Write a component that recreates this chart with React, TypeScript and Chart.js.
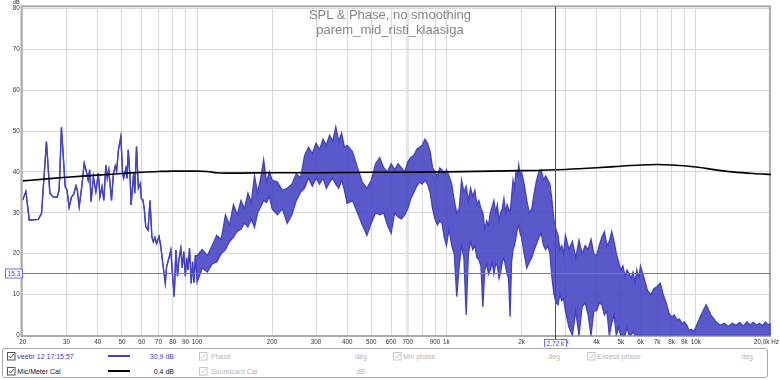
import React, { useEffect, useRef } from 'react';
import { Chart, registerables } from 'chart.js';

Chart.register(...registerables);

// ---------- data ----------
// Low-frequency part of the SPL trace (clean single line)
const FREQ_LOW = [
  20, 20.6, 21.25, 22, 23.1, 23.8, 24.9, 25.7, 26.5, 27.5,
  28, 28.6, 29.6, 30.1, 30.7, 31.4, 32, 32.7, 33.1, 33.7,
  34.5, 35.3, 36, 36.6, 37.1, 37.6, 38.4, 39.3, 40.2, 40.8,
  41.6, 42.3, 43.1, 43.7, 44.3, 45.4, 46.2, 47, 47.6, 48.4,
  49.5, 50.3, 50.8, 51.9, 52.4, 53, 54, 54.4, 55.7, 56.3,
  57.2, 58.2, 59.3, 59.8, 60.7, 61.5, 62.3, 63.6, 64.8, 65.9,
  66.8, 67.8, 68.8, 70.4, 71.5, 72.9, 74.6, 75.5, 77.4, 78.5,
  79.7, 81, 82.3, 83.5, 84.8, 86.1, 87.2, 88.5, 89.8, 90.9,
  92, 93.3, 94.8, 96, 97.2, 98.5,
];
const SPL_LOW = [
  33.1, 35.2, 28.2, 28.3, 28.4, 29.9, 47.4, 34.8, 33.9, 33.8,
  35.6, 50.9, 36.4, 35.6, 31.3, 33.9, 34.5, 36.6, 35.6, 31.5,
  36.4, 42.1, 40.1, 38.0, 40.5, 32.7, 38.8, 35.2, 39.7, 33.9,
  36.4, 33.0, 41.7, 38.4, 40.5, 33.0, 39.5, 41.4, 40.1, 45.4,
  48.6, 39.7, 38.5, 40.9, 38.4, 45.4, 37.6, 31.9, 39.7, 34.8,
  46.2, 36.0, 37.2, 33.5, 33.1, 30.7, 26.6, 25.8, 33.0, 24.2,
  22.9, 24.0, 22.5, 24.2, 22.0, 17.6, 12.8, 16.8, 19.3, 20.9,
  15.0, 9.5, 20.9, 14.5, 19.0, 21.3, 16.5, 20.5, 14.5, 19.0,
  16.0, 21.3, 12.7, 18.0, 12.9, 19.5,
];

// Noisy part of the SPL trace: upper / lower envelope
const FREQ_BAND = [
  // 100-200
  100, 105, 110, 115, 120, 125, 130, 135, 140, 145, 150, 155, 160, 165, 170, 175, 180, 185, 190, 195, 200,
  // 210-400
  210, 220, 230, 240, 250, 260, 270, 280, 290, 300, 310, 320, 330, 340, 350, 360, 370, 380, 390, 400,
  // 420-1000
  420, 440, 460, 480, 500, 520, 540, 560, 580, 600, 620, 640, 660, 680, 700,
  720, 740, 760, 780, 800, 820, 840, 860, 880, 900, 920, 940, 960, 980, 1000,
  // 1025-2000
  1025, 1050, 1075, 1100, 1125, 1150, 1175, 1200, 1225, 1250, 1275, 1300, 1325, 1350, 1375, 1400, 1425, 1450, 1475, 1500,
  1525, 1550, 1575, 1600, 1625, 1650, 1675, 1700, 1725, 1750, 1775, 1800, 1825, 1850, 1875, 1900, 1925, 1950, 1975, 2000,
  // 2050-3000
  2050, 2100, 2150, 2200, 2250, 2300, 2350, 2400, 2450, 2500, 2550, 2600, 2650, 2700, 2750, 2800, 2850, 2900, 2950, 3000,
  // 3100-6000
  3100, 3200, 3300, 3400, 3500, 3600, 3700, 3800, 3900, 4000, 4100, 4200, 4300, 4400, 4500,
  4600, 4700, 4800, 4900, 5000, 5100, 5200, 5300, 5400, 5500, 5600, 5700, 5800, 5900, 6000,
  // 6200-10000
  6200, 6400, 6600, 6800, 7000, 7200, 7400, 7600, 7800, 8000, 8200, 8400, 8600, 8800, 9000, 9200, 9400, 9600, 9800, 10000,
  // 10500-20000
  10500, 11000, 11500, 12000, 12500, 13000, 13500, 14000, 14500, 15000, 15500, 16000, 16500, 17000, 17500, 18000, 18500, 19000, 19500, 20000,
];
const SPL_HI = [
  19.5, 21, 19.5, 22, 24.5, 23.5, 29.5, 27, 32, 29.5, 33, 31, 34.8, 32.5, 39, 35, 38.5, 43, 37.5, 40, 38,
  37.5, 35.5, 36, 37, 39.5, 38.5, 44, 46, 44.5, 47, 45.5, 48, 46.5, 49, 47.5, 51, 47.5, 49.5, 46, 46.5,
  45, 41, 37.5, 36, 38, 42, 43.5, 41, 40, 42, 40.5, 42, 41, 40, 42.5,
  43.5, 44, 45.5, 46, 46.5, 48, 47, 45, 41, 40, 39, 41, 40.5, 39.5, 40.5,
  39, 37, 33, 30, 31, 38, 35, 36.5, 33, 36, 34, 35.5, 32, 33, 31, 30, 26, 28, 27, 30,
  31.5, 33, 30, 32, 28, 30, 31, 33.5, 30, 32, 31, 30, 34, 38, 36, 40, 39, 41.7, 39, 40,
  37, 33, 30, 31, 35, 38, 40, 40.5, 38, 39, 38, 37, 33, 28, 26, 24.6, 21, 22, 20, 24.5,
  21, 23, 19, 23.3, 20, 22, 21, 23.5, 20, 19.5, 22, 24, 25.4, 22, 23,
  25.4, 23, 20, 18, 16, 17, 14.5, 16, 15, 14, 15.5, 13, 16, 14, 17,
  14, 11, 10, 11.5, 12, 12.8, 10, 8, 5.5, 4.5, 5, 3.8, 4, 3, 3.3, 2.5, 1.2, 1.5, 1, 2,
  5, 7.5, 5, 3.5, 2.5, 3, 2.2, 3, 2.5, 3.2, 2.3, 3.3, 2.6, 3.2, 2.5, 3, 2.4, 3.3, 2.6, 3,
];
const SPL_LO = [
  13, 16.5, 15.5, 17.5, 18, 20, 21, 23, 24, 25.5, 26, 27.5, 26.5, 28.5, 26.4, 30, 31.5, 33, 32.5, 34, 31,
  29.5, 31, 27.4, 29.5, 33, 35, 36, 38.5, 36.5, 38.5, 37, 38.5, 36, 37.5, 38.5, 37, 36, 38, 35.5, 32.3,
  33, 30, 27, 24.5, 27.5, 30, 29.5, 30, 27, 25, 30, 29, 28.5, 29.5, 31,
  33.5, 35, 36.5, 37.5, 37, 38, 37, 35, 31, 28.5, 27, 28, 27.5, 24, 22,
  26, 22, 20, 9.5, 17, 22, 19, 5, 20, 23, 21, 22, 19, 18.5, 17, 7, 16, 17.5, 15, 16,
  18, 15, 17.5, 17, 14, 15.5, 18, 19, 17, 15, 14, 4.6, 18, 21, 22, 24, 26, 27, 25, 24,
  20, 16.5, 18, 19, 21, 22.5, 24, 25, 22, 21, 22, 20, 14, 10, 8, 7.5, 10, 8.5, 9, 6,
  2, 0, 6, 0, 7, 8, 5, 0, 6, 6, 8, 7.5, 5, 6, 0,
  3, 5, 0, 2, 0, 0, 0, 2, 0, 0, 1, 0, 0, 0, 0,
  0, 0, 0, 0, 0, 0, 0, 0, 0, 0, 0, 0, 0, 0, 0, 0, 0, 0, 0, 0,
  0, 0, 0, 0, 0, 0, 0, 0, 0, 0, 0, 0, 0, 0, 0, 0, 0, 0, 0, 0,
];

// Mic/Meter calibration curve
const CAL_FREQ = [20, 25, 30, 40, 50, 60, 70, 80, 100, 110, 120, 140, 200, 300, 500, 1000, 2000, 3000, 4000, 5000, 6000, 7000, 8000, 10000, 12000, 14000, 17000, 20000];
const CAL_DB = [37.8, 38.3, 38.7, 39.2, 39.6, 39.9, 40.1, 40.2, 40.2, 40.1, 39.8, 39.7, 39.8, 39.8, 39.9, 40.0, 40.3, 40.6, 41.0, 41.4, 41.7, 41.8, 41.7, 41.2, 40.5, 40.0, 39.6, 39.4];

// Axes
const X_TICKS = [20, 30, 40, 50, 60, 70, 80, 90, 100, 200, 300, 400, 500, 600, 700, 800, 900, 1000, 2000, 3000, 4000, 5000, 6000, 7000, 8000, 9000, 10000, 20000];
const X_TICK_LABELS = ['20', '30', '40', '50', '60', '70', '80', '90', '100', '200', '300', '400', '500', '600', '700', '', '900', '1k', '2k', '3k', '4k', '5k', '6k', '7k', '8k', '9k', '10k', '20,0k Hz\u00a0\u00a0\u00a0\u00a0\u00a0'];
const Y_MIN = 0;
const Y_MAX = 80;
const Y_STEP = 10;

// Cursor
const CURSOR_FREQ = 2720;
const CURSOR_DB = 15.3;
const CURSOR_FREQ_LABEL = '2,72 k';
const CURSOR_DB_LABEL = '15,3';

// ---------- styling ----------
const FONT = '"Liberation Sans", Arial, sans-serif';
const BLUE = '#4242c2';
const BAND_FILL = 'rgba(66,66,194,0.88)';
const GREY_TXT = '#b5b5b5';

const overlayPlugin = {
  id: 'overlay',
  beforeDatasetsDraw(chart: any) {
    const { ctx, chartArea: a } = chart;
    ctx.save();
    ctx.strokeStyle = '#ababab';
    ctx.lineWidth = 2;
    ctx.strokeRect(a.left - 1.2, a.top - 2, a.right - a.left + 0.2, a.bottom - a.top + 2.5);
    ctx.restore();
  },
  afterDatasetsDraw(chart: any) {
    const { ctx, chartArea: a, scales } = chart;
    const cx = Math.round(scales.x.getPixelForValue(CURSOR_FREQ)) + 0.5;
    const cy = Math.round(scales.y.getPixelForValue(CURSOR_DB)) + 0.5;
    ctx.save();
    ctx.strokeStyle = '#6c6cff';
    ctx.lineWidth = 1;
    ctx.beginPath();
    ctx.moveTo(a.left, cy);
    ctx.lineTo(a.right, cy);
    ctx.stroke();
    ctx.strokeStyle = '#4b40c4';
    ctx.beginPath();
    ctx.moveTo(cx, a.top - 2);
    ctx.lineTo(cx, a.bottom + 3.5);
    ctx.stroke();
    ctx.font = `6.5px ${FONT}`;
    ctx.textAlign = 'center';
    ctx.textBaseline = 'middle';
    ctx.fillStyle = '#ffffff';
    ctx.fillRect(5.5, cy - 4.5, 17, 9);
    ctx.strokeStyle = '#6c6cff';
    ctx.strokeRect(5.5, cy - 4.5, 17, 9);
    ctx.fillStyle = '#3c3cff';
    ctx.fillText(CURSOR_DB_LABEL, 14, cy + 0.5);
    const bw = 22;
    const bx = Math.round(cx - 12) + 0.5;
    const by = Math.round(a.bottom + 3.5) + 0.5;
    ctx.fillStyle = '#ffffff';
    ctx.fillRect(bx, by, bw, 8);
    ctx.strokeStyle = '#6c6cff';
    ctx.strokeRect(bx, by, bw, 8);
    ctx.fillStyle = '#3c3cff';
    ctx.fillText(CURSOR_FREQ_LABEL, bx + bw / 2, by + 4.5);
    ctx.restore();
  },
};

function Check({ x, y, grey }: { x: number; y: number; grey?: boolean }) {
  const c = grey ? '#c8c8c8' : '#555555';
  return (
    <svg style={{ position: 'absolute', left: x, top: y }} width={9} height={9}>
      <rect x={0.5} y={0.5} width={7.5} height={7.5} fill="#ffffff" stroke={c} />
      <path d="M1.8 4.2 L3.5 6 L6.8 2" stroke={c} fill="none" strokeWidth={1} />
    </svg>
  );
}

function Txt({ x, y, right, color, children }: { x?: number; y: number; right?: number; color: string; children: React.ReactNode }) {
  const style: React.CSSProperties = {
    position: 'absolute',
    top: y,
    fontFamily: FONT,
    fontSize: 7,
    lineHeight: '7px',
    color,
    whiteSpace: 'nowrap',
  };
  if (right !== undefined) style.right = 780 - right;
  else style.left = x;
  return <span style={style}>{children}</span>;
}

export default function App() {
  const ref = useRef<HTMLCanvasElement>(null);

  useEffect(() => {
    document.body.style.margin = '0';
    const freq = [...FREQ_LOW, ...FREQ_BAND];
    const hi = [...SPL_LOW, ...SPL_HI];
    const lo = [...SPL_LOW, ...SPL_LO];
    const pts = (xs: number[], ys: number[]) => xs.map((x, i) => ({ x, y: ys[i] }));

    const chart = new Chart(ref.current as HTMLCanvasElement, {
      type: 'line',
      data: {
        datasets: [
          {
            label: 'Mic/Meter Cal',
            data: pts(CAL_FREQ, CAL_DB),
            borderColor: '#000000',
            borderWidth: 1.6,
            pointRadius: 0,
            cubicInterpolationMode: 'monotone',
            fill: false,
          },
          {
            label: 'veebr 12 17:15:57 (max)',
            data: pts(freq, hi),
            borderColor: BLUE,
            backgroundColor: BAND_FILL,
            borderWidth: 1.3,
            pointRadius: 0,
            tension: 0,
            fill: '+1',
          },
          {
            label: 'veebr 12 17:15:57 (min)',
            data: pts(freq, lo),
            borderColor: BLUE,
            borderWidth: 1.3,
            pointRadius: 0,
            tension: 0,
            fill: false,
          },
        ],
      },
      options: {
        responsive: false,
        animation: false,
        events: [],
        layout: { padding: { top: 8.3, right: 9.1, left: 0, bottom: 0 }, autoPadding: false },
        plugins: { legend: { display: false }, tooltip: { enabled: false }, title: { display: false } },
        scales: {
          x: {
            type: 'logarithmic',
            min: 20,
            max: 20000,
            afterBuildTicks: (s: any) => {
              s.ticks = X_TICKS.map((v) => ({ value: v }));
            },
            afterFit: (s: any) => {
              s.height = 11.5;
              s.paddingLeft = 0;
              s.paddingRight = 0;
            },
            ticks: {
              autoSkip: false,
              maxRotation: 0,
              minRotation: 0,
              padding: 3,
              color: '#333333',
              font: { family: FONT, size: 6.3 },
              callback: (v: any) => {
                const i = X_TICKS.indexOf(Number(v));
                return i >= 0 ? X_TICK_LABELS[i] : '';
              },
            },
            grid: {
              drawTicks: false,
              color: (c: any) => (c.tick && c.tick.value === 700 ? '#e6e6e6' : '#d9d9d9'),
              lineWidth: (c: any) => (c.tick && c.tick.value === 700 ? 3 : 1),
            },
            border: { display: false },
          },
          y: {
            type: 'linear',
            min: Y_MIN,
            max: Y_MAX,
            afterFit: (s: any) => {
              s.width = 22.7;
              s.paddingTop = 0;
              s.paddingBottom = 0;
            },
            ticks: {
              stepSize: Y_STEP,
              padding: 3,
              color: '#333333',
              font: { family: FONT, size: 6.3 },
            },
            grid: { drawTicks: false, color: '#d9d9d9', lineWidth: 1 },
            border: { display: false },
          },
        },
      },
      plugins: [overlayPlugin],
    } as any);

    return () => chart.destroy();
  }, []);

  return (
    <div style={{ position: 'relative', width: 780, height: 380, background: '#ffffff', overflow: 'hidden' }}>
      <canvas ref={ref} width={780} height={347} style={{ position: 'absolute', left: 0, top: 0, width: 780, height: 347 }} />
      <span style={{ position: 'absolute', left: 12.5, top: -1, fontFamily: FONT, fontSize: 6, lineHeight: '6px', color: '#333' }}>dB</span>
      <div
        style={{
          position: 'absolute',
          left: 0,
          top: 8.3,
          width: 780,
          textAlign: 'center',
          fontFamily: FONT,
          fontSize: 13,
          lineHeight: '14.5px',
          color: '#858585',
        }}
      >
        <div>SPL &amp; Phase, no smoothing</div>
        <div>parem_mid_risti_klaasiga</div>
      </div>
      <div
        style={{
          position: 'absolute',
          left: 2,
          top: 347.5,
          width: 766,
          height: 30,
          border: '1px solid #a8a8a8',
          borderRadius: 3,
          boxSizing: 'border-box',
        }}
      />
      <Check x={6.5} y={351.5} />
      <Txt x={17.3} y={352.6} color={BLUE}>veebr 12 17:15:57</Txt>
      <div style={{ position: 'absolute', left: 108, top: 354.5, width: 22, height: 2, background: BLUE }} />
      <Txt right={174} y={352.6} color={BLUE}>30,9 dB</Txt>
      <Check x={198.5} y={351.5} grey />
      <Txt x={211} y={352.6} color={GREY_TXT}>Phase</Txt>
      <Txt right={367} y={352.6} color={GREY_TXT}>deg</Txt>
      <Check x={392.5} y={351.5} grey />
      <Txt x={403} y={352.6} color={GREY_TXT}>Min phase</Txt>
      <Txt right={560} y={352.6} color={GREY_TXT}>deg</Txt>
      <Check x={586.5} y={351.5} grey />
      <Txt x={597} y={352.6} color={GREY_TXT}>Excess phase</Txt>
      <Txt right={753} y={352.6} color={GREY_TXT}>deg</Txt>

      <Check x={6.5} y={366.5} />
      <Txt x={17.3} y={367.8} color="#111111">Mic/Meter Cal</Txt>
      <div style={{ position: 'absolute', left: 108, top: 369.8, width: 22, height: 2, background: '#000000' }} />
      <Txt right={174} y={367.8} color="#111111">0,4 dB</Txt>
      <Check x={198.5} y={366.5} grey />
      <Txt x={211} y={367.8} color={GREY_TXT}>Soundcard Cal</Txt>
      <Txt right={365} y={367.8} color={GREY_TXT}>dB</Txt>
    </div>
  );
}
